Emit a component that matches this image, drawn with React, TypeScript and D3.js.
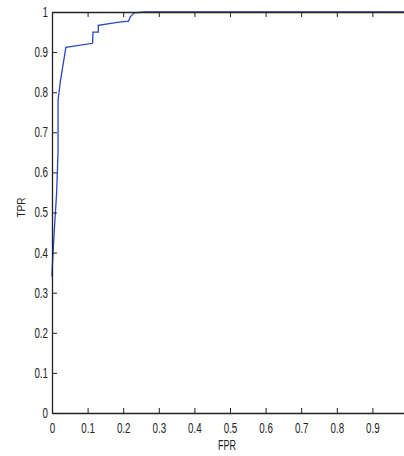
import { useRef, useEffect } from 'react'
import * as d3 from 'd3'

// ROC curve points
const fpr = [0, 0, 0.006, 0.013, 0.017, 0.017, 0.024, 0.039, 0.114, 0.115, 0.13, 0.13, 0.184, 0.215, 0.22, 0.231, 0.261, 1.0]
const tpr = [0.34, 0.349, 0.449, 0.549, 0.65, 0.78, 0.83, 0.912, 0.922, 0.95, 0.95, 0.967, 0.974, 0.977, 0.988, 0.998, 1.0, 1.0]

const xTicks = [0, 0.1, 0.2, 0.3, 0.4, 0.5, 0.6, 0.7, 0.8, 0.9, 1]
const yTicks = [0, 0.1, 0.2, 0.3, 0.4, 0.5, 0.6, 0.7, 0.8, 0.9, 1]

const xLabel = 'FPR'
const yLabel = 'TPR'

const App = () => {
  const svgRef = useRef<SVGSVGElement>(null)

  useEffect(() => {
    const svg = d3.select(svgRef.current)
    svg.selectAll('*').remove()

    const width = 404
    const height = 456
    const margin = { top: 12, right: -4, bottom: 43, left: 52 }
    const innerWidth = width - margin.left - margin.right
    const innerHeight = height - margin.top - margin.bottom

    // MATLAB-ish narrow font: squeeze Liberation Sans horizontally
    const font = "'Liberation Sans', Arial, sans-serif"
    const squeeze = 0.7

    const g = svg.append('g').attr('transform', `translate(${margin.left},${margin.top})`)

    const xScale = d3.scaleLinear().domain([0, 1]).range([0, innerWidth])
    const yScale = d3.scaleLinear().domain([0, 1]).range([innerHeight, 0])

    // curve first so the axis lines sit on top of it
    const line = d3
      .line<number>()
      .x((d) => xScale(fpr[d]))
      .y((d) => yScale(tpr[d]))

    g.append('path')
      .attr('d', line(d3.range(fpr.length)))
      .attr('fill', 'none')
      .attr('stroke', '#2747c2')
      .attr('stroke-width', 1.3)

    const fmt = (d: d3.NumberValue) => (+d === 0 ? '0' : +d === 1 ? '1' : d3.format('.1f')(d))
    // the x "1" falls outside the window in the reference
    const xFmt = (d: d3.NumberValue) => (+d === 1 ? '' : fmt(d))

    const bottom = g
      .append('g')
      .attr('transform', `translate(0,${innerHeight})`)
      .call(d3.axisBottom(xScale).tickValues(xTicks).tickFormat(xFmt).tickSizeInner(-5).tickSizeOuter(0).tickPadding(10))
    const top = g
      .append('g')
      .call(d3.axisTop(xScale).tickValues(xTicks).tickFormat(() => '').tickSizeInner(-5).tickSizeOuter(0))
    const left = g
      .append('g')
      .call(d3.axisLeft(yScale).tickValues(yTicks).tickFormat(fmt).tickSizeInner(-5).tickSizeOuter(0).tickPadding(4))

    ;[bottom, top, left].forEach((a) => {
      a.selectAll('.domain').attr('stroke', '#222').attr('stroke-width', 1.3)
      a.selectAll('.tick line').attr('stroke', '#222')
      a.selectAll('text')
        .attr('font-family', font)
        .attr('font-size', 14)
        .attr('fill', '#222')
        .attr('transform', `scale(${squeeze},1)`)
    })
    left.selectAll('text').attr('x', -4 / squeeze)

    g.append('text')
      .text(xLabel)
      .attr('transform', `translate(${xScale(0.5) - 3},${innerHeight + 37}) scale(0.6,1)`)
      .attr('text-anchor', 'middle')
      .attr('font-family', font)
      .attr('font-size', 15)
      .attr('fill', '#222')

    g.append('text')
      .text(yLabel)
      .attr('transform', `translate(-27,${innerHeight / 2 - 5}) rotate(-90) scale(0.87,1)`)
      .attr('text-anchor', 'middle')
      .attr('font-family', font)
      .attr('font-size', 11.5)
      .attr('fill', '#222')
  }, [])

  return (
    <svg
      ref={svgRef}
      width={404}
      height={456}
      style={{ position: 'absolute', left: 0, top: 0, background: '#fff' }}
    ></svg>
  )
}

export default App
